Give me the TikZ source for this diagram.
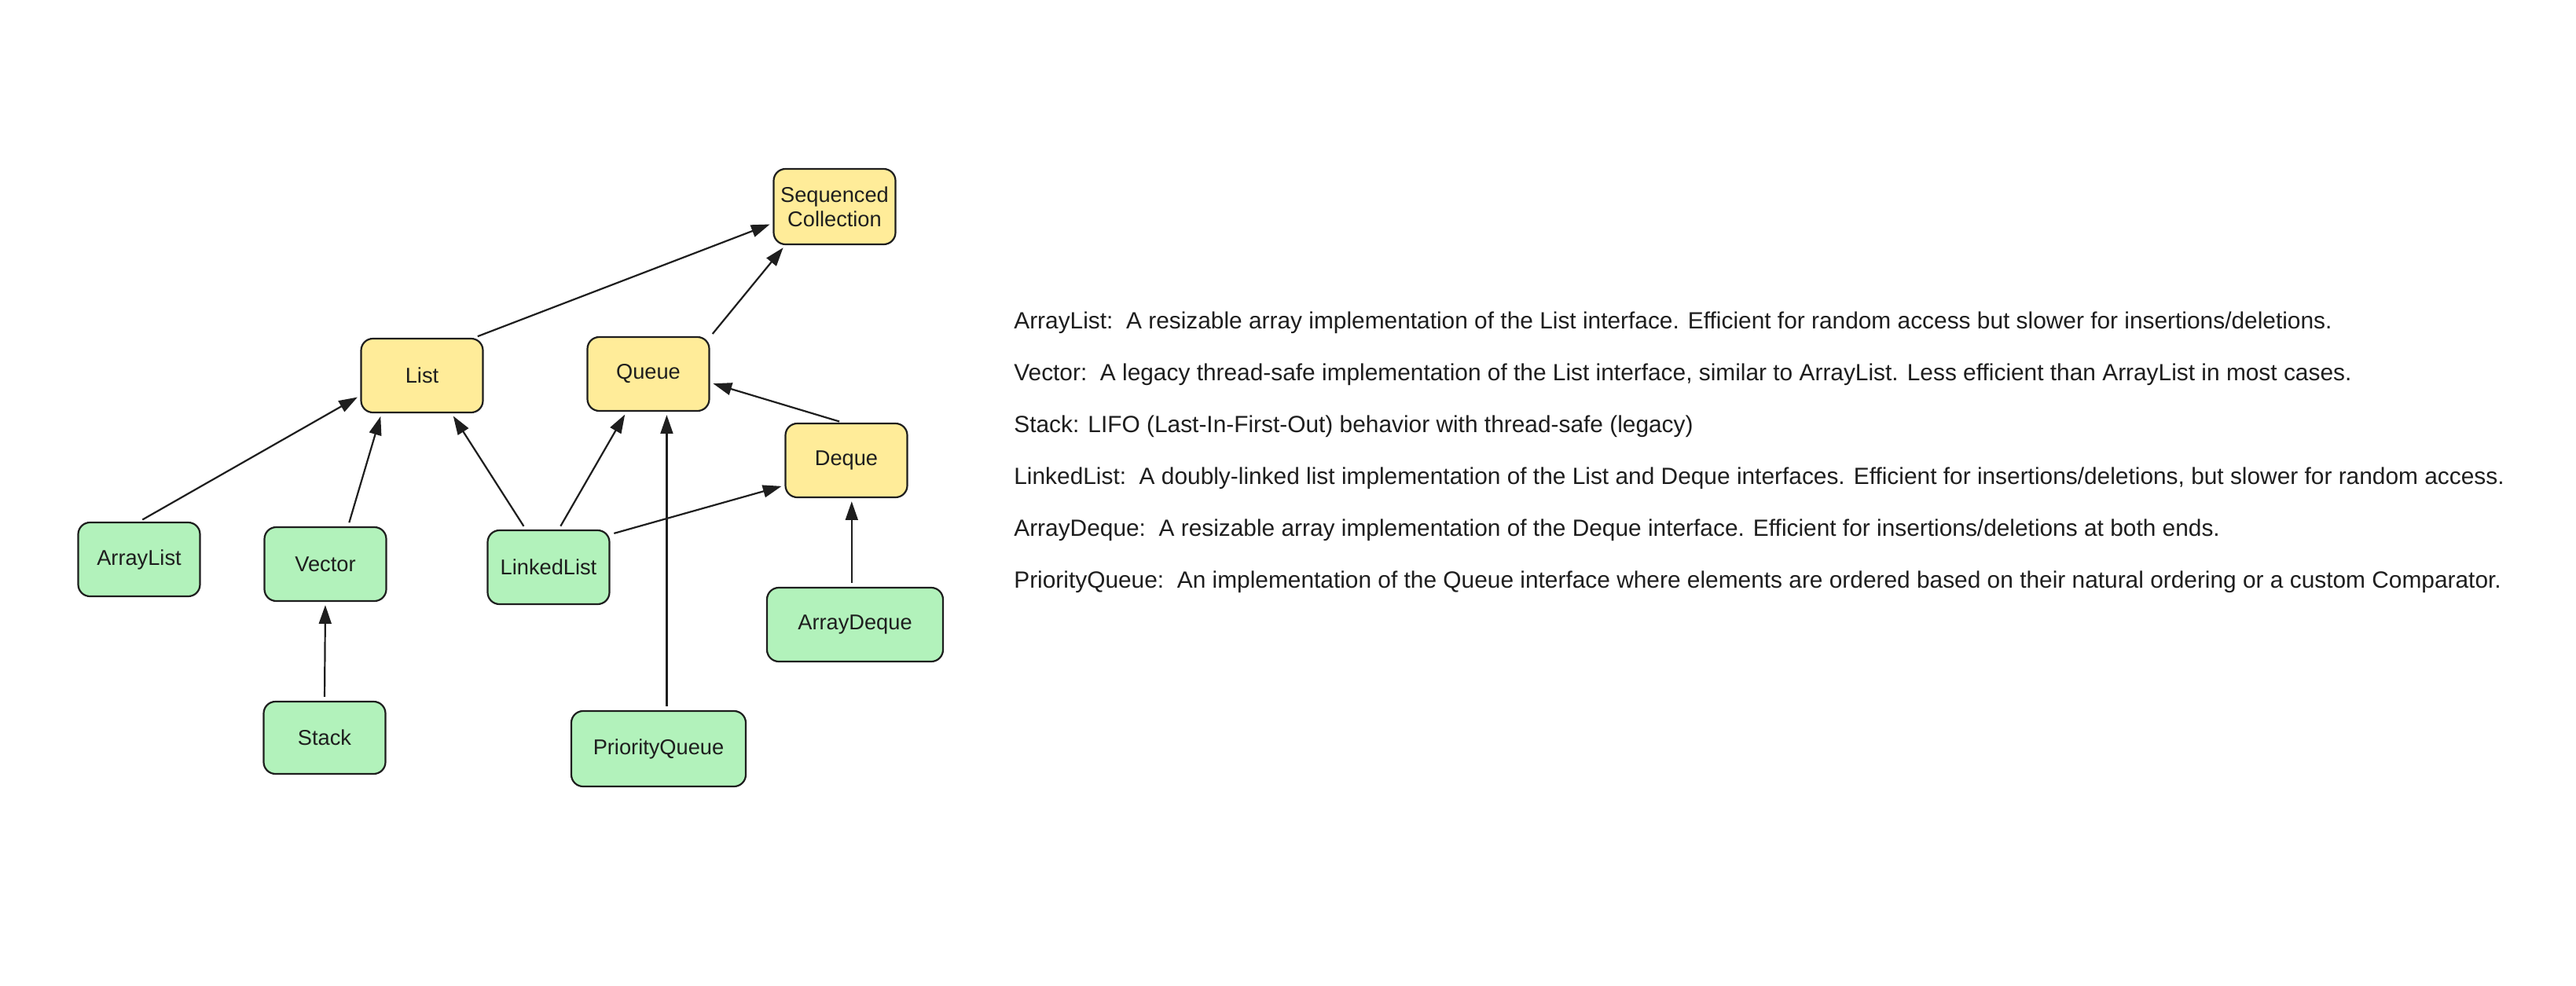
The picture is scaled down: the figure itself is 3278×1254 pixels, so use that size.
\documentclass[tikz,border=0pt]{standalone}
\usepackage{fontspec}
\setmainfont{Liberation Sans}
\usetikzlibrary{arrows.meta}
\definecolor{ifacefill}{HTML}{FFEC99}
\definecolor{implfill}{HTML}{B2F2BB}
\definecolor{ink}{HTML}{1E1E1E}
\newlength{\pxu}\setlength{\pxu}{0.02cm}

\begin{document}
\begin{tikzpicture}[x=0.02cm, y=-0.02cm,
	box/.style={draw=ink, line width=2.2\pxu, rounded corners=15\pxu, inner sep=0pt, align=center, text=ink,
		minimum width=155\pxu, minimum height=94\pxu, font=\fontsize{15.5}{17.5}\selectfont},
	iface/.style={box, fill=ifacefill},
	impl/.style={box, fill=implfill},
	arr/.style={draw=ink, line width=2.2\pxu, -{Triangle[length=13.5pt,width=9pt]}, shorten <=2.8pt, shorten >=2.3pt},
	note/.style={anchor=west, inner sep=0pt, text=ink, font=\fontsize{17}{20}\selectfont}]
			%%%%% START %%%%%
			\useasboundingbox (0, 0) rectangle (3278, 1254);
			
			% interfaces
			\node[iface, minimum height=96\pxu] (seq) at (1062, 263) {Sequenced\\Collection};
			\node[iface] (lst) at (537, 478) {List};
			\node[iface] (que) at (825, 476) {Queue};
			\node[iface] (deq) at (1077, 586) {Deque};
			
			% implementations
			\node[impl] (al) at (177, 712) {ArrayList};
			\node[impl] (vec) at (414, 718) {Vector};
			\node[impl] (ll) at (698, 722) {LinkedList};
			\node[impl, minimum width=224\pxu] (ad) at (1088, 795) {ArrayDeque};
			\node[impl, minimum height=92\pxu] (stk) at (413, 939) {Stack};
			\node[impl, minimum width=222\pxu, minimum height=96\pxu] (pq) at (838, 953) {PriorityQueue};
			
			\draw[arr] (lst.36) -- (seq.195);
			\draw[arr] (que.31) -- (seq.218);
			\draw[arr] (al.north) -- (lst.198);
			\draw[arr] (vec.59) -- (lst.223);
			\draw[arr] (ll.121) -- (lst.308);
			\draw[arr] (ll.75) -- (que.240);
			\draw[arr] (ll.28) -- (deq.202);
			\draw[arr] (pq.78) -- (pq.78 |- que.south);
			\draw[arr] (deq.95) -- (que.352);
			\draw[arr] (ad.95) -- (ad.95 |- deq.south);
			\draw[arr] (stk.north) -- (vec.south);
			
			% descriptions
			\node[note] (dal) at (1290, 411) {ArrayList:~~A resizable array implementation of the List interface. Efficient for random access but slower for insertions/deletions.};
			\node[note] (dvec) at (1290, 477) {Vector:~~A legacy thread-safe implementation of the List interface, similar to ArrayList. Less efficient than ArrayList in most cases.};
			\node[note] (dstk) at (1290, 543) {Stack: LIFO (Last-In-First-Out) behavior with thread-safe (legacy)};
			\node[note] (dll) at (1290, 609) {LinkedList:~~A doubly-linked list implementation of the List and Deque interfaces. Efficient for insertions/deletions, but slower for random access.};
			\node[note] (dad) at (1290, 675) {ArrayDeque:~~A resizable array implementation of the Deque interface. Efficient for insertions/deletions at both ends.};
			\node[note] (dpq) at (1290, 741) {PriorityQueue:~~An implementation of the Queue interface where elements are ordered based on their natural ordering or a custom Comparator.};
			%%%%% END %%%%%
\end{tikzpicture}
\end{document}
